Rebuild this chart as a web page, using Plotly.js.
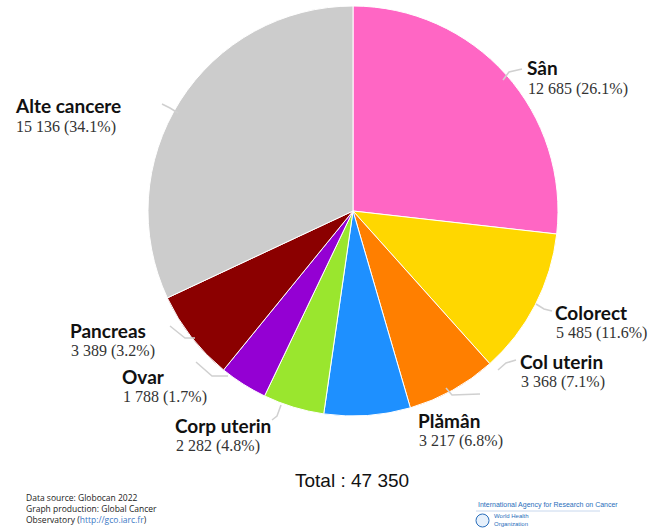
<!DOCTYPE html>
<html>
<head>
<meta charset="utf-8">
<script src="https://cdn.plot.ly/plotly-3.0.1.min.js"></script>
<style>html,body{margin:0;padding:0;background:#fff;}#chart{width:649px;height:530px;}</style>
</head>
<body>
<div id="chart"></div>
<script>
// Data (clockwise from 12 o'clock)
const names = ["Sân", "Colorect", "Col uterin", "Plămân", "Corp uterin", "Ovar", "Pancreas", "Alte cancere"];
const counts = [12685, 5485, 3368, 3217, 2282, 1788, 3389, 15136];
const countText = ["12 685", "5 485", "3 368", "3 217", "2 282", "1 788", "3 389", "15 136"];
const pctText = ["26.1%", "11.6%", "7.1%", "6.8%", "4.8%", "1.7%", "3.2%", "34.1%"];
const colors = ["#ff66c4", "#ffd700", "#ff7f00", "#1e90ff", "#9ae62e", "#9400d3", "#8b0000", "#cccccc"];
const totalText = "Total : 47 350";

// label placement (pixel positions of label blocks, left edge / name line centre)
const labelPos = [[525, 68], [553, 312], [518, 361], [416, 420], [173, 425], [120, 376], [68, 330], [13, 106]];
// leader lines (pixel coordinates)
const leaders = [
  [[503, 80], [509, 72], [522, 69]],
  [[536, 304], [544, 309], [552, 311]],
  [[498, 370], [506, 363], [516, 360]],
  [[446, 388], [452, 395], [480, 394]],
  [[281, 405], [277, 416], [272, 420]],
  [[196, 362], [212, 376], [228, 376]],
  [[170, 326], [185, 338], [195, 338]],
  [[162, 104], [170, 108], [178, 113]]
];

const W = 649, H = 530;
const px = x => x / W, py = y => 1 - y / H;

const annotations = [];
names.forEach((n, i) => {
  const [x, y] = labelPos[i];
  annotations.push({xref: "paper", yref: "paper", x: px(x), y: py(y), xanchor: "left", yanchor: "middle",
    text: "<b>" + n + "</b>", showarrow: false, font: {family: "Lato, 'Open Sans', sans-serif", size: 19, color: "#111"}});
  annotations.push({xref: "paper", yref: "paper", x: px(x + 1), y: py(y + 21), xanchor: "left", yanchor: "middle",
    text: countText[i] + " (" + pctText[i] + ")", showarrow: false, font: {family: "'Liberation Serif', serif", size: 16, color: "#333"}});
});
annotations.push({xref: "paper", yref: "paper", x: px(352), y: py(480), xanchor: "center", yanchor: "middle",
  text: totalText, showarrow: false, font: {family: "'Liberation Sans', Arial, sans-serif", size: 19, color: "#111"}});
annotations.push({xref: "paper", yref: "paper", x: px(24), y: py(508), xanchor: "left", yanchor: "middle", align: "left",
  text: "Data source: Globocan 2022<br>Graph production: Global Cancer<br>Observatory (<span style='color:#3b78c4'>http://gco.iarc.fr</span>)",
  showarrow: false, font: {family: "'Open Sans', sans-serif", size: 8.5, color: "#222"}});
annotations.push({xref: "paper", yref: "paper", x: px(476), y: py(505), xanchor: "left", yanchor: "middle",
  text: "International Agency for Research on Cancer", showarrow: false,
  font: {family: "'Liberation Sans', Arial, sans-serif", size: 7, color: "#2a6ebb"}});
annotations.push({xref: "paper", yref: "paper", x: px(492), y: py(520), xanchor: "left", yanchor: "middle", align: "left",
  text: "World Health<br>Organization", showarrow: false,
  font: {family: "'Liberation Sans', Arial, sans-serif", size: 6, color: "#2a6ebb"}});

const shapes = leaders.map(pts => ({
  type: "path", xref: "paper", yref: "paper",
  path: "M" + pts.map(p => px(p[0]) + "," + py(p[1])).join(" L"),
  line: {color: "#d0d0d0", width: 1.5}
}));
shapes.push({type: "line", xref: "paper", yref: "paper", x0: px(476), x1: px(600), y0: py(511), y1: py(511), line: {color: "#c8d8ee", width: 1}});
shapes.push({type: "circle", xref: "paper", yref: "paper", x0: px(476), x1: px(489), y0: py(514), y1: py(527), line: {color: "#2a6ebb", width: 1}, fillcolor: "#e6f0fb"});

const trace = {
  type: "pie", labels: names, values: counts, sort: false, direction: "clockwise", rotation: 0,
  marker: {colors: colors, line: {color: "#ffffff", width: 1}},
  textinfo: "none", hoverinfo: "none", showlegend: false,
  domain: {x: [px(148), px(558)], y: [py(416), py(6)]}
};

Plotly.newPlot("chart", [trace], {
  width: W, height: H, margin: {l: 0, r: 0, t: 0, b: 0},
  paper_bgcolor: "#fff", plot_bgcolor: "#fff", showlegend: false,
  annotations: annotations, shapes: shapes
}, {displayModeBar: false, staticPlot: true});
</script>
</body>
</html>
